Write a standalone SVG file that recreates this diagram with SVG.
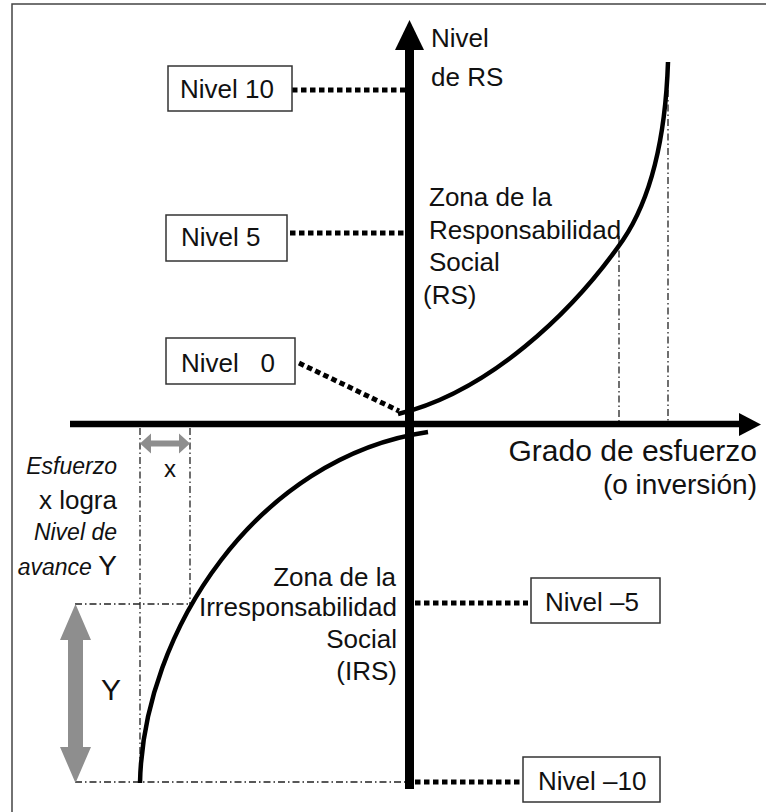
<svg xmlns="http://www.w3.org/2000/svg" width="766" height="812" viewBox="0 0 766 812">
  <style>
    text { font-family: "Liberation Sans", Arial, sans-serif; fill: #111; }
    .lbl { font-size: 26px; }
    .zone { font-size: 26px; }
    .big { font-size: 30px; }
    .sub { font-size: 28px; }
    .it { font-style: italic; font-size: 23px; }
    .box { fill: #fff; stroke: #333; stroke-width: 1.5; }
    .dots { fill: none; stroke: #000; stroke-width: 5; stroke-dasharray: 5.5 3.5; }
    .guide { fill: none; stroke: #222; stroke-width: 1.3; stroke-dasharray: 7 3 1.5 3; }
    .curve { fill: none; stroke: #000; stroke-width: 4.5; }
    .gray { fill: #8e8e8e; }
  </style>

  <rect width="766" height="812" fill="#fff"/>
  <!-- frame -->
  <path d="M12,812 V4 H766" fill="none" stroke="#444" stroke-width="1.5"/>

  <!-- projection guides -->
  <g id="guides">
    <line class="guide" x1="619" y1="236" x2="619" y2="421"/>
    <line class="guide" x1="668" y1="90" x2="668" y2="421"/>
    <line class="guide" x1="140" y1="428" x2="140" y2="782"/>
    <line class="guide" x1="190" y1="428" x2="190" y2="604"/>
    <line class="guide" x1="75" y1="604" x2="190" y2="604"/>
    <line class="guide" x1="75" y1="782" x2="405" y2="782"/>
  </g>

  <!-- axes -->
  <g id="axis-x">
    <line x1="70" y1="424" x2="742" y2="424" stroke="#000" stroke-width="6.5"/>
    <polygon points="739,413 761,424.5 739,436" fill="#000"/>
  </g>
  <g id="axis-y">
    <line x1="409.5" y1="789" x2="409.5" y2="45" stroke="#000" stroke-width="9"/>
    <polygon points="395,50 409.5,20 424,50" fill="#000"/>
  </g>

  <!-- curves -->
  <g id="curve-rs">
    <path class="curve" d="M398,414 C488,392 571.5,314 623,240 C656,191 666,122 668,62"/>
  </g>
  <g id="curve-irs">
    <path class="curve" d="M428,432 C257,457 143,632 140,783"/>
  </g>

  <!-- connectors from level boxes to the axis -->
  <g id="connectors">
    <line class="dots" x1="292" y1="90" x2="405" y2="90"/>
    <line class="dots" x1="290" y1="233" x2="405" y2="233"/>
    <line class="dots" x1="299" y1="363" x2="399" y2="411"/>
    <line class="dots" x1="415" y1="603" x2="528" y2="603"/>
    <line class="dots" x1="415" y1="782" x2="523" y2="782"/>
  </g>

  <!-- level boxes -->
  <g id="nivel-10">
    <rect class="box" x="168" y="66" width="124" height="45"/>
    <text class="lbl" x="180" y="98">Nivel 10</text>
  </g>
  <g id="nivel-5">
    <rect class="box" x="166" y="215" width="121" height="46"/>
    <text class="lbl" x="181" y="246">Nivel 5</text>
  </g>
  <g id="nivel-0">
    <rect class="box" x="166" y="338" width="129" height="46"/>
    <text class="lbl" x="181" y="372" xml:space="preserve">Nivel   0</text>
  </g>
  <g id="nivel-m5">
    <rect class="box" x="531" y="578" width="129" height="45"/>
    <text class="lbl" x="545" y="611">Nivel –5</text>
  </g>
  <g id="nivel-m10">
    <rect class="box" x="523" y="757" width="137" height="45"/>
    <text class="lbl" x="538" y="790">Nivel –10</text>
  </g>

  <!-- axis titles -->
  <g id="title-y">
    <text class="lbl" x="431" y="47" font-size="27">Nivel</text>
    <text class="lbl" x="431" y="86" font-size="27">de RS</text>
  </g>
  <g id="title-x">
    <text class="big" x="757" y="461" text-anchor="end">Grado de esfuerzo</text>
    <text class="sub" x="757" y="494" text-anchor="end">(o inversión)</text>
  </g>

  <!-- zone labels -->
  <g id="zona-rs">
    <text class="zone" x="429" y="206">Zona de la</text>
    <text class="zone" x="429" y="239">Responsabilidad</text>
    <text class="zone" x="429" y="271">Social</text>
    <text class="zone" x="423" y="304">(RS)</text>
  </g>
  <g id="zona-irs" text-anchor="end">
    <text class="zone" x="396" y="586">Zona de la</text>
    <text class="zone" x="397" y="616">Irresponsabilidad</text>
    <text class="zone" x="397" y="648">Social</text>
    <text class="zone" x="397" y="680">(IRS)</text>
  </g>

  <!-- effort / advance annotation -->
  <g id="nota-esfuerzo" text-anchor="end">
    <text class="it" x="117" y="474">Esfuerzo</text>
    <text x="117" y="509" font-size="26">x logra</text>
    <text class="it" x="117" y="540">Nivel de</text>
    <text x="117" y="575"><tspan class="it">avance </tspan><tspan font-size="28">Y</tspan></text>
  </g>

  <g id="delta-x">
    <polygon class="gray" points="140,443.5 151,433.5 151,440.5 179,440.5 179,433.5 190,443.5 179,453.5 179,446.5 151,446.5 151,453.5"/>
    <text x="170" y="477" font-size="24" text-anchor="middle">x</text>
  </g>
  <g id="delta-y">
    <polygon class="gray" points="75.5,604 91,640 83,640 83,747 91,747 75.5,783 60,747 68,747 68,640 60,640"/>
    <text x="111" y="700" font-size="30" text-anchor="middle">Y</text>
  </g>
</svg>
